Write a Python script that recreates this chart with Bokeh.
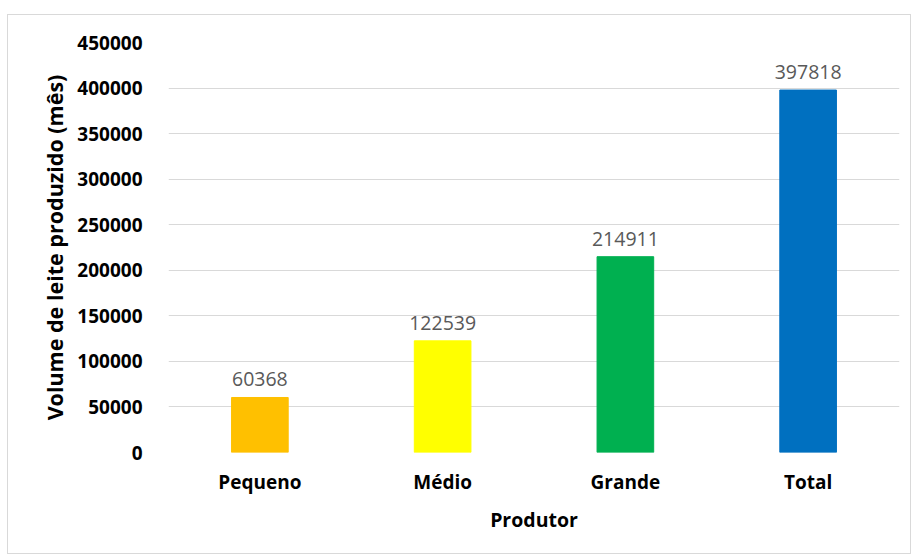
from bokeh.plotting import figure
from bokeh.models import ColumnDataSource, FactorRange, Range1d, SingleIntervalTicker
from bokeh.embed import file_html
from bokeh.resources import INLINE
from bokeh.core.properties import value

categories = ["Pequeno", "Médio", "Grande", "Total"]
volumes = [60368, 122539, 214911, 397818]
colors = ["#FFC000", "#FFFF00", "#00B050", "#0070C0"]
labels = [str(v) for v in volumes]

src = ColumnDataSource(dict(cat=categories, vol=volumes, color=colors, label=labels))

FONT = "Open Sans"

p = figure(x_range=FactorRange(*categories), y_range=Range1d(0, 450000),
           width=904, height=540, output_backend="svg", toolbar_location=None,
           min_border_left=160, min_border_right=13, min_border_top=27, min_border_bottom=103,
           margin=(14, 0, 0, 7))
p.styles = {"border": "1px solid #d9d9d9"}
p.outline_line_color = None
p.background_fill_color = "white"

p.vbar(x="cat", top="vol", width=0.31, color="color", source=src)
p.text(x="cat", y="vol", text="label", source=src, text_align="center",
       text_baseline="alphabetic", y_offset=-18, text_font=value(FONT),
       text_font_size="19.5px", text_color="#595959")

p.yaxis.ticker = SingleIntervalTicker(interval=50000)
p.yaxis.formatter.use_scientific = False
p.xgrid.grid_line_color = None
p.ygrid.grid_line_color = "#d9d9d9"
p.ygrid.grid_line_width = 1

for ax in (p.xaxis, p.yaxis):
    ax.axis_line_color = None
    ax.major_tick_line_color = None
    ax.minor_tick_line_color = None
    ax.major_label_text_font = FONT
    ax.major_label_text_font_style = "bold"
    ax.major_label_text_font_size = "19px"
    ax.major_label_text_color = "black"
    ax.axis_label_text_font = FONT
    ax.axis_label_text_font_style = "bold"
    ax.axis_label_text_font_size = "19.5px"
    ax.axis_label_text_color = "black"

p.yaxis.axis_label_text_font_size = "21.5px"
p.yaxis.axis_label = "Volume de leite produzido (mês)"
p.xaxis.axis_label = "Produtor"
p.yaxis.major_label_standoff = 20
p.yaxis.axis_label_standoff = 5
p.xaxis.major_label_standoff = 10
p.xaxis.axis_label_standoff = 8

open("out.html", "w").write(file_html(p, INLINE))
